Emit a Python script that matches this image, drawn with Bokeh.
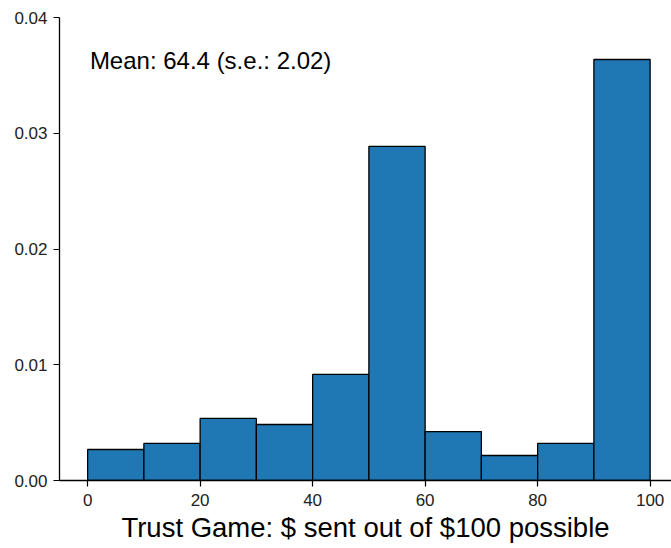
from bokeh.plotting import figure
from bokeh.models import Label, FixedTicker, Range1d
from bokeh.embed import file_html
from bokeh.resources import INLINE

# Histogram of amounts sent in the trust game (density per $1)
bin_edges = [0, 10, 20, 30, 40, 50, 60, 70, 80, 90, 100]
densities = [0.00268, 0.00320, 0.00536, 0.00484, 0.00916,
             0.02886, 0.00423, 0.00216, 0.00320, 0.03637]
x_ticks = [0, 20, 40, 60, 80, 100]
y_ticks = [0.00, 0.01, 0.02, 0.03, 0.04]
mean_label = "Mean: 64.4 (s.e.: 2.02)"
x_title = "Trust Game: $ sent out of $100 possible"

FONT = "Liberation Sans"

p = figure(width=671, height=548, output_backend="svg", toolbar_location=None,
           x_range=Range1d(-5, 103.8), y_range=Range1d(0, 0.04),
           min_border_left=59, min_border_right=0, min_border_top=17,
           min_border_bottom=68)
p.outline_line_color = None
p.grid.grid_line_color = None
p.background_fill_color = "white"
p.border_fill_color = "white"

p.quad(left=bin_edges[:-1], right=bin_edges[1:], bottom=0, top=densities,
       fill_color="#1f77b4", line_color="black", line_width=1.3)

for ax in (p.xaxis[0], p.yaxis[0]):
    ax.axis_line_color = "black"
    ax.axis_line_width = 1.3
    ax.major_tick_line_color = "black"
    ax.major_tick_line_width = 1.2
    ax.major_tick_out = 6
    ax.major_tick_in = 0
    ax.minor_tick_line_color = None
    ax.major_label_text_font = FONT
    ax.major_label_text_font_size = "17px"
    ax.major_label_text_color = "#222222"

p.xaxis.ticker = FixedTicker(ticks=x_ticks)
p.yaxis.ticker = FixedTicker(ticks=y_ticks)
p.yaxis.major_label_overrides = {t: f"{t:.2f}" for t in y_ticks}
p.xaxis.major_label_standoff = 7
p.yaxis.major_label_standoff = 6

p.xaxis.axis_label = x_title
p.xaxis.axis_label_text_font = FONT
p.xaxis.axis_label_text_font_size = "27.5px"
p.xaxis.axis_label_text_font_style = "normal"
p.xaxis.axis_label_text_color = "black"
p.xaxis.axis_label_standoff = 3

p.add_layout(Label(x=0.4, y=0.0363, text=mean_label, text_font=FONT,
                   text_font_size="24px", text_color="black",
                   text_baseline="alphabetic"))

open("out.html", "w").write(file_html(p, INLINE))
